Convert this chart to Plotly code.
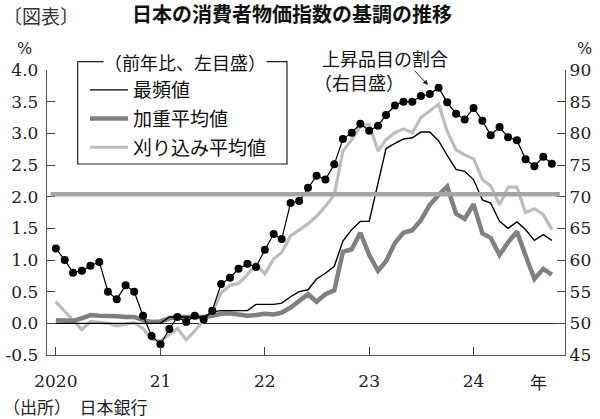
import pandas as pd
import plotly.graph_objects as go

# ---- data (monthly, Jan 2020 - Oct 2024) ----
months = pd.date_range("2020-01-01", "2024-10-01", freq="MS")

# 最頻値 (mode), % y/y, left axis
mode_vals = [0.00, 0.00, 0.00, 0.00, 0.00, 0.00, 0.00, 0.00, 0.00, 0.00, 0.00, 0.00,
             0.00, 0.10, 0.10, 0.10, 0.10, 0.10, 0.18, 0.20, 0.20, 0.20, 0.20, 0.30,
             0.30, 0.30, 0.32, 0.42, 0.50, 0.53, 0.70, 0.79, 0.90, 1.30, 1.48, 1.61,
             1.61, 2.20, 2.76, 2.84, 2.91, 2.93, 3.02, 3.02, 2.88, 2.65, 2.43, 2.40,
             2.27, 1.95, 1.90, 1.61, 1.50, 1.60, 1.48, 1.31, 1.40, 1.31]

# 加重平均値 (weighted median), % y/y, left axis
wmed_vals = [0.05, 0.05, 0.04, 0.08, 0.13, 0.12, 0.12, 0.11, 0.10, 0.10, 0.05, 0.02,
             0.03, 0.08, 0.10, 0.10, 0.10, 0.10, 0.12, 0.15, 0.16, 0.14, 0.12, 0.13,
             0.15, 0.14, 0.17, 0.25, 0.36, 0.46, 0.34, 0.46, 0.52, 1.13, 1.17, 1.43,
             1.08, 0.83, 0.98, 1.27, 1.43, 1.47, 1.63, 1.87, 2.03, 2.16, 1.73, 1.65,
             1.88, 1.42, 1.35, 1.08, 1.28, 1.45, 1.07, 0.70, 0.86, 0.77]

# 刈り込み平均値 (trimmed mean), % y/y, left axis
trim_vals = [0.34, 0.19, 0.04, -0.10, 0.03, 0.01, 0.00, -0.04, -0.02, 0.01, -0.08, -0.25,
             -0.28, -0.17, -0.08, -0.26, -0.12, 0.05, 0.17, 0.48, 0.60, 0.63, 0.77, 0.94,
             0.78, 1.02, 1.12, 1.38, 1.48, 1.57, 1.69, 1.85, 2.03, 2.72, 2.90, 3.11,
             3.14, 2.72, 2.90, 3.01, 3.07, 3.01, 3.25, 3.35, 3.46, 3.03, 2.74, 2.66,
             2.60, 2.27, 2.17, 1.87, 2.15, 2.15, 1.75, 1.81, 1.72, 1.48]

# 上昇品目の割合 (share of rising items), %, right axis
rise_vals = [61.8, 60.0, 58.0, 58.3, 59.1, 59.7, 55.0, 53.8, 56.0, 55.0, 51.2, 48.0,
             46.7, 49.1, 51.0, 50.2, 51.2, 50.6, 52.0, 56.2, 57.2, 58.6, 59.4, 58.9,
             61.6, 64.1, 63.3, 69.0, 69.3, 71.4, 73.3, 72.7, 75.1, 79.1, 80.1, 81.5,
             80.4, 81.2, 82.9, 84.4, 85.0, 85.0, 85.9, 86.2, 87.2, 84.9, 83.1, 82.2,
             84.0, 82.0, 79.7, 81.0, 79.4, 78.9, 75.9, 74.8, 76.3, 75.2]

year_ticks = ["2020-01-01", "2021-01-01", "2022-01-01", "2023-01-01", "2024-01-01"]
year_labels = ["2020", "21", "22", "23", "24"]
left_ticks = [-0.5, 0.0, 0.5, 1.0, 1.5, 2.0, 2.5, 3.0, 3.5, 4.0]
left_labels = ["-0.5", "0.0", "0.5", "1.0", "1.5", "2.0", "2.5", "3.0", "3.5", "4.0"]
target_line = 2.04  # 2% reference line as drawn

JP = "Noto Sans CJK JP"
NUM = "DejaVu Serif"

fig = go.Figure()
fig.add_trace(go.Scatter(x=months, y=trim_vals, name="刈り込み平均値", mode="lines",
                         line=dict(color="#bdbdbd", width=3.2), legendgroup="c", legendrank=3))
fig.add_trace(go.Scatter(x=months, y=wmed_vals, name="加重平均値", mode="lines",
                         line=dict(color="#808080", width=4.5), legendgroup="b", legendrank=2))
fig.add_trace(go.Scatter(x=months, y=mode_vals, name="最頻値", mode="lines",
                         line=dict(color="#000000", width=1.4), legendgroup="a", legendrank=1))
fig.add_trace(go.Scatter(x=months, y=rise_vals, name="上昇品目の割合", mode="lines+markers",
                         line=dict(color="#000000", width=1.2),
                         marker=dict(color="#000000", size=8), yaxis="y2", showlegend=False))


def px_x(p):
    return (p - 47) / 518.0


def px_y(p):
    return (355 - p) / 285.0


fig.update_layout(
    width=600, height=419,
    margin=dict(l=47, r=35, t=70, b=64, autoexpand=False),
    paper_bgcolor="white", plot_bgcolor="white",
    font=dict(family=NUM, size=17, color="#222"),
    showlegend=True,
    legend=dict(x=px_x(85), y=px_y(71), xanchor="left", yanchor="top",
                bgcolor="rgba(0,0,0,0)", borderwidth=0,
                font=dict(family=JP, size=19, color="#111"),
                itemwidth=38, tracegroupgap=1, traceorder="grouped"),
    xaxis=dict(type="date", range=["2019-12-01", "2024-11-16"],
               tickvals=year_ticks, ticktext=year_labels, automargin=False,
               ticks="inside", ticklen=8, tickcolor="#444", tickwidth=1.2,
               showline=True, linecolor="#555", linewidth=1.4,
               showgrid=False, zeroline=False, ticklabelstandoff=10,
               tickfont=dict(family=NUM, size=17, color="#222")),
    yaxis=dict(range=[-0.5, 4.0], tickvals=left_ticks, ticktext=left_labels, automargin=False,
               ticks="inside", ticklen=8, tickcolor="#444", tickwidth=1.2,
               showline=True, linecolor="#555", linewidth=1.4,
               showgrid=False, zeroline=True, zerolinecolor="#333", zerolinewidth=1,
               ticklabelstandoff=4,
               tickfont=dict(family=NUM, size=17, color="#222")),
    yaxis2=dict(range=[45, 90], dtick=5, overlaying="y", side="right", automargin=False,
                ticks="inside", ticklen=8, tickcolor="#444", tickwidth=1.2,
                showline=True, linecolor="#555", linewidth=1.4,
                showgrid=False, zeroline=False,
                tickfont=dict(family=NUM, size=17, color="#222")),
    title=dict(text="<b>日本の消費者物価指数の基調の推移</b>", x=292 / 600, xanchor="center",
               y=1 - 15 / 419, yanchor="middle",
               font=dict(family=JP, size=20, color="#111")),
)

# 2% reference line
fig.add_shape(type="line", xref="x domain", yref="y", x0=0.007, x1=0.99,
              y0=target_line, y1=target_line, line=dict(color="#a6a6a6", width=4.5),
              layer="above")

# legend frame
fig.add_shape(type="rect", xref="paper", yref="paper",
              x0=px_x(77.7), x1=px_x(287), y0=px_y(164), y1=px_y(61.7),
              line=dict(color="#222", width=1.2), fillcolor="rgba(0,0,0,0)", layer="above")

ann = [
    dict(text="（前年比、左目盛）", x=px_x(185), y=px_y(61.7), xanchor="center", yanchor="middle",
         bgcolor="white", font=dict(family=JP, size=18, color="#111"), borderpad=0),
    dict(text="〔図表〕", x=px_x(1), y=px_y(15), xanchor="left", yanchor="middle",
         font=dict(family=JP, size=19, color="#333")),
    dict(text="%", x=px_x(24.5), y=px_y(48), xanchor="center", yanchor="middle",
         font=dict(family=NUM, size=16, color="#222")),
    dict(text="%", x=px_x(584), y=px_y(48), xanchor="center", yanchor="middle",
         font=dict(family=NUM, size=16, color="#222")),
    dict(text="上昇品目の割合", x=px_x(320), y=px_y(58), xanchor="left", yanchor="middle",
         font=dict(family=JP, size=18, color="#111")),
    dict(text="（右目盛）", x=px_x(312), y=px_y(82), xanchor="left", yanchor="middle",
         font=dict(family=JP, size=18, color="#111")),
    dict(text="年", x=px_x(538), y=px_y(381), xanchor="center", yanchor="middle",
         font=dict(family=JP, size=17, color="#222")),
    dict(text="（出所）　日本銀行", x=px_x(1), y=px_y(406), xanchor="left", yanchor="middle",
         font=dict(family=JP, size=17, color="#222")),
    dict(text="", x=px_x(428), y=px_y(85), ax=-15, ay=-16, showarrow=True,
         arrowhead=2, arrowsize=1, arrowwidth=1, arrowcolor="#222"),
]
for a in ann:
    a.setdefault("xref", "paper")
    a.setdefault("yref", "paper")
    a.setdefault("showarrow", False)
    fig.add_annotation(**a)

fig.write_html("out.html")
